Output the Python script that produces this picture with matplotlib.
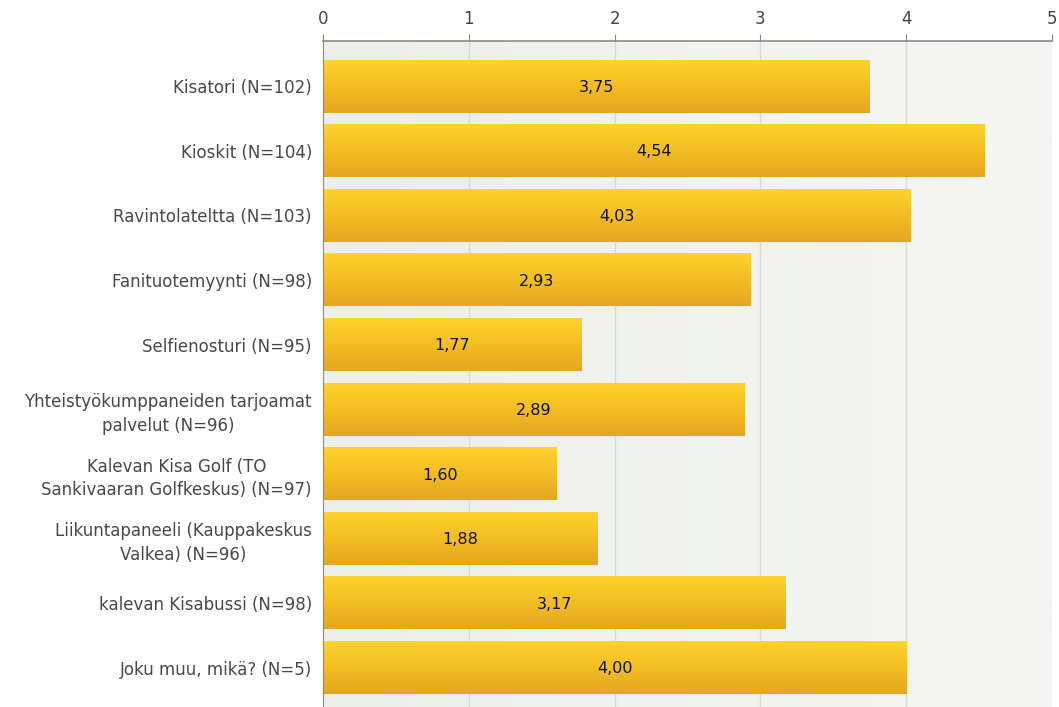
import numpy as np
import matplotlib
matplotlib.use("Agg")
import matplotlib.pyplot as plt
from matplotlib.colors import LinearSegmentedColormap

categories = [
    "Kisatori (N=102)",
    "Kioskit (N=104)",
    "Ravintolateltta (N=103)",
    "Fanituotemyynti (N=98)",
    "Selfienosturi (N=95)",
    "Yhteistyökumppaneiden tarjoamat\npalvelut (N=96)",
    "Kalevan Kisa Golf (TO\nSankivaaran Golfkeskus) (N=97)",
    "Liikuntapaneeli (Kauppakeskus\nValkea) (N=96)",
    "kalevan Kisabussi (N=98)",
    "Joku muu, mikä? (N=5)",
]
values = [3.75, 4.54, 4.03, 2.93, 1.77, 2.89, 1.60, 1.88, 3.17, 4.00]
value_labels = ["3,75", "4,54", "4,03", "2,93", "1,77", "2,89", "1,60", "1,88", "3,17", "4,00"]
xticks = [0, 1, 2, 3, 4, 5]

plt.rcParams['font.family'] = ['DejaVu Sans']

fig = plt.figure(figsize=(10.59, 7.07), dpi=100)
ax = fig.add_axes([323/1059, 0.0, (1052-323)/1059, (707-41)/707])

# background gradient
bg = LinearSegmentedColormap.from_list("bg", ["#eceee8", "#f5f6f4"])
ax.imshow(np.linspace(0, 1, 256)[None, :], cmap=bg, aspect="auto",
          extent=[0, 1, 0, 1], transform=ax.transAxes, zorder=0)

ax.set_xlim(0, 5)
ax.set_ylim(9.61, -0.697)

for x in xticks[1:-1]:
    ax.axvline(x, color="#d9dcd6", lw=1, zorder=1)

bar_cmap = LinearSegmentedColormap.from_list("bar", ["#fdd42c", "#f3bd24", "#e5a621"])
h = 0.82
y = np.arange(len(values))
bars = ax.barh(y, values, height=h, color="none", edgecolor="none", zorder=2)
for rect, v, lab in zip(bars, values, value_labels):
    yb = rect.get_y()
    ax.imshow(np.linspace(0, 1, 128)[:, None], cmap=bar_cmap, aspect="auto",
              extent=[0, v, yb + h, yb], zorder=2, interpolation="bilinear")
    ax.text(v / 2, yb + h / 2 + 0.02, lab, ha="center", va="center",
            fontsize=11.5, color="#111111", zorder=3)

ax.set_yticks(y)
ax.set_yticklabels(categories, fontsize=12, color="#484848",
                   multialignment="center", linespacing=1.4)
ax.tick_params(axis="y", length=0, pad=8)

ax.xaxis.tick_top()
ax.set_xticks(xticks)
ax.set_xticklabels([str(t) for t in xticks], fontsize=12, color="#444444")
ax.tick_params(axis="x", length=5, color="#888888", pad=4, direction="out")

for s in ["right", "bottom"]:
    ax.spines[s].set_visible(False)
ax.spines["top"].set_color("#8a8a8a")
ax.spines["left"].set_color("#8a8a8a")
ax.spines["top"].set_linewidth(1.2)

fig.savefig("out.png", dpi=100)
